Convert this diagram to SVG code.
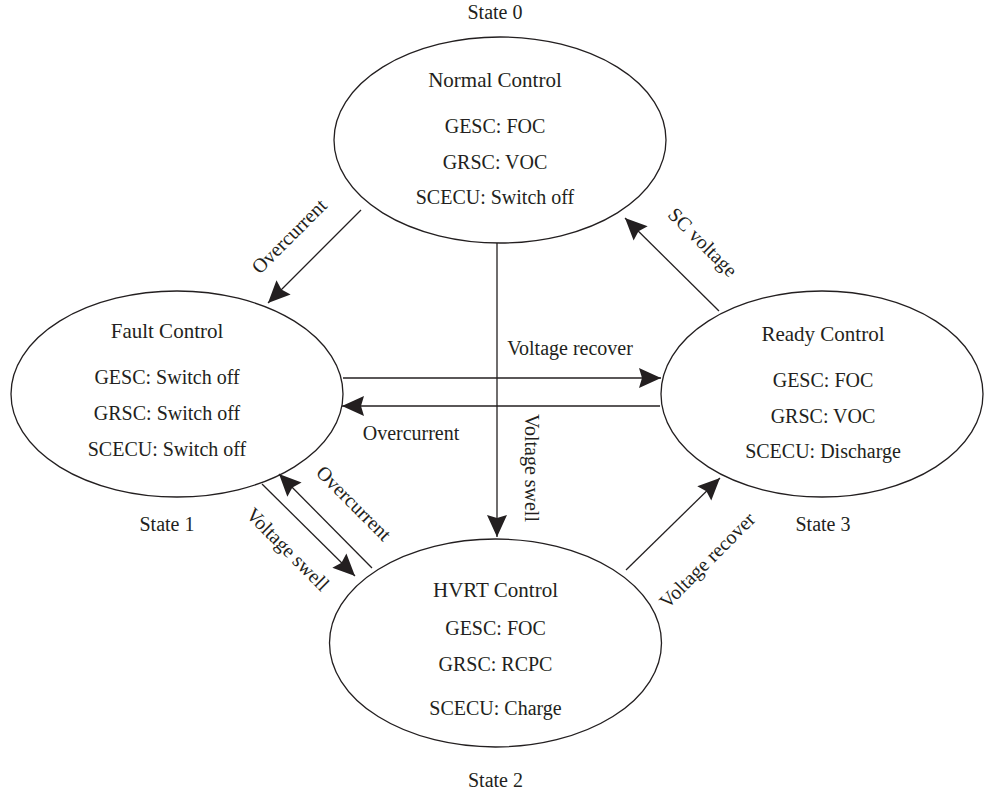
<svg xmlns="http://www.w3.org/2000/svg" width="984" height="795" viewBox="0 0 984 795">
<style>
text{font-family:"Liberation Serif","Times New Roman",serif;font-size:20px;fill:#231f20;text-anchor:middle}
.t{font-size:21px}
.lb{dominant-baseline:central}
ellipse{fill:none;stroke:#231f20;stroke-width:1.3}
.c line{stroke:#231f20;stroke-width:1.3;marker-end:url(#ah)}
</style>
<defs>
<marker id="ah" viewBox="-23 -11 24 22" refX="0" refY="0" markerWidth="24" markerHeight="22" markerUnits="userSpaceOnUse" orient="auto">
<path d="M0,0 L-22,-10 L-19,0 L-22,10 Z" fill="#231f20"/>
</marker>
</defs>
<g id="state0">
<text x="495" y="19">State 0</text>
<ellipse cx="500" cy="140" rx="166" ry="103"/>
<text class="t" x="495" y="87">Normal Control</text>
<text x="495" y="133">GESC: FOC</text>
<text x="495" y="169">GRSC: VOC</text>
<text x="495" y="204">SCECU: Switch off</text>
</g>
<g id="state1">
<ellipse cx="177" cy="394" rx="166" ry="103"/>
<text class="t" x="167" y="338">Fault Control</text>
<text x="167" y="384">GESC: Switch off</text>
<text x="167" y="420">GRSC: Switch off</text>
<text x="167" y="456">SCECU: Switch off</text>
<text x="167" y="531">State 1</text>
</g>
<g id="state3">
<ellipse cx="822" cy="394" rx="161" ry="103"/>
<text class="t" x="823" y="341">Ready Control</text>
<text x="823" y="387">GESC: FOC</text>
<text x="823" y="423">GRSC: VOC</text>
<text x="823" y="458">SCECU: Discharge</text>
<text x="823" y="531">State 3</text>
</g>
<g id="state2">
<ellipse cx="495.5" cy="643" rx="166" ry="104"/>
<text class="t" x="495.5" y="597">HVRT Control</text>
<text x="495.5" y="635">GESC: FOC</text>
<text x="495.5" y="671">GRSC: RCPC</text>
<text x="495.5" y="715">SCECU: Charge</text>
<text x="495.5" y="787">State 2</text>
</g>
<g id="connectors" class="c">
<line x1="361" y1="210" x2="268" y2="303"/>
<line x1="719" y1="311" x2="625" y2="218"/>
<line x1="343" y1="378" x2="661" y2="378"/>
<line x1="660" y1="406" x2="342" y2="406"/>
<line x1="497" y1="243" x2="497" y2="537"/>
<line x1="262" y1="484" x2="355" y2="576"/>
<line x1="372" y1="568" x2="279" y2="474"/>
<line x1="626" y1="570" x2="720" y2="478"/>
</g>
<g id="labels">
<text class="lb" transform="translate(289,236) rotate(-45)">Overcurrent</text>
<text class="lb" transform="translate(703,242) rotate(45)">SC voltage</text>
<text x="570" y="355">Voltage recover</text>
<text x="411" y="440">Overcurrent</text>
<text class="lb" transform="translate(532,468) rotate(90)">Voltage swell</text>
<text class="lb" transform="translate(288,549) rotate(45)">Voltage swell</text>
<text class="lb" transform="translate(354,503) rotate(45)">Overcurrent</text>
<text class="lb" transform="translate(707,560) rotate(-45)">Voltage recover</text>
</g>
</svg>
